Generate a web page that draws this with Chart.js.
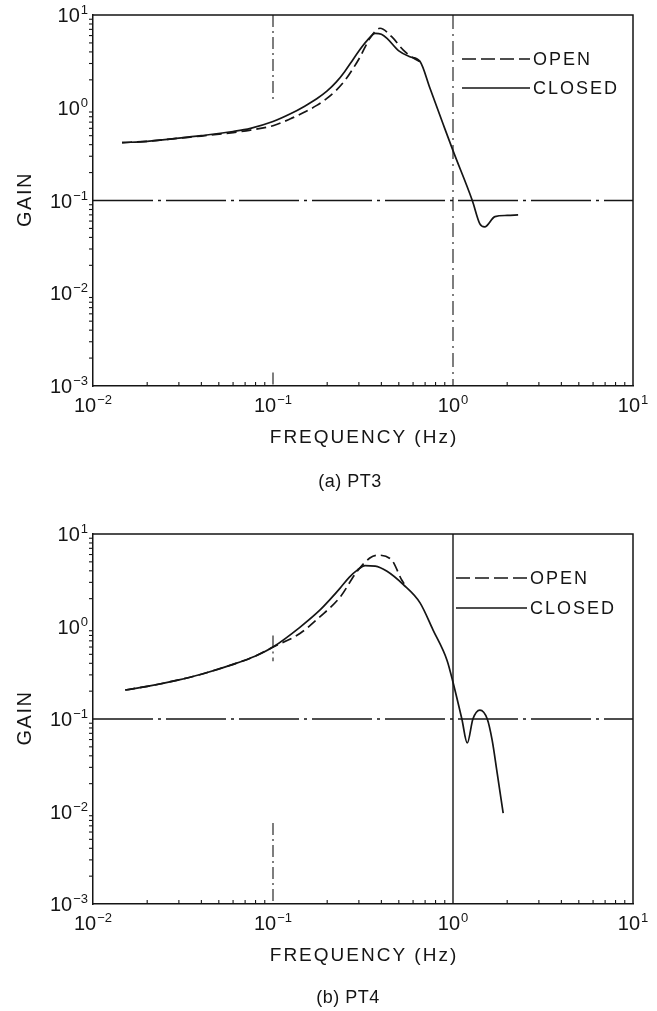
<!DOCTYPE html>
<html><head><meta charset="utf-8">
<script src="https://cdn.jsdelivr.net/npm/chart.js@4.4.0/dist/chart.umd.min.js"></script>
<style>
html,body{margin:0;padding:0;background:#fff;width:657px;height:1011px;overflow:hidden}
canvas{position:absolute;left:0}
#c1{top:0}
#c2{top:500px}
</style></head><body>
<canvas id="c1" width="657" height="500" style="width:657px;height:500px"></canvas>
<canvas id="c2" width="657" height="511" style="width:657px;height:511px"></canvas>
<script>
// ---------- DATA ----------
// (a) PT3
const freqA_closed = [0.0145, 0.02, 0.03, 0.04, 0.06, 0.075, 0.1, 0.125, 0.15, 0.175, 0.2, 0.225, 0.25, 0.275, 0.3, 0.333, 0.37, 0.40, 0.43, 0.5, 0.576, 0.656, 0.745, 0.883, 1.0, 1.28, 1.41, 1.5, 1.71, 2.0, 2.3];
const gainA_closed = [0.42, 0.435, 0.47, 0.5, 0.555, 0.6, 0.71, 0.86, 1.04, 1.25, 1.52, 1.9, 2.45, 3.2, 4.1, 5.3, 6.35, 6.2, 5.6, 4.1, 3.55, 3.15, 1.62, 0.66, 0.345, 0.1, 0.056, 0.052, 0.067, 0.069, 0.07];
const freqA_open = [0.0145, 0.02, 0.03, 0.04, 0.06, 0.075, 0.1, 0.125, 0.15, 0.175, 0.2, 0.225, 0.25, 0.275, 0.304, 0.345, 0.393, 0.458, 0.528, 0.6, 0.656];
const gainA_open = [0.42, 0.435, 0.47, 0.495, 0.54, 0.575, 0.64, 0.76, 0.9, 1.06, 1.27, 1.55, 1.95, 2.55, 3.5, 5.6, 7.2, 5.8, 4.2, 3.45, 3.15];
// (b) PT4
const freqB_closed = [0.0151, 0.02, 0.03, 0.04, 0.06, 0.08, 0.1, 0.141, 0.182, 0.207, 0.236, 0.265, 0.295, 0.325, 0.37, 0.43, 0.528, 0.656, 0.774, 0.927, 1.0, 1.12, 1.2, 1.29, 1.41, 1.55, 1.65, 1.76, 1.9];
const gainB_closed = [0.206, 0.225, 0.265, 0.305, 0.39, 0.48, 0.6, 0.98, 1.5, 1.95, 2.6, 3.4, 4.1, 4.55, 4.5, 3.95, 2.85, 1.8, 0.92, 0.43, 0.25, 0.1, 0.055, 0.1, 0.125, 0.1, 0.059, 0.026, 0.0096];
const freqB_open = [0.0151, 0.02, 0.03, 0.04, 0.06, 0.08, 0.1, 0.141, 0.182, 0.236, 0.292, 0.345, 0.38, 0.456, 0.519, 0.535];
const gainB_open = [0.206, 0.225, 0.265, 0.305, 0.39, 0.48, 0.6, 0.84, 1.27, 2.08, 3.9, 5.5, 5.9, 5.24, 3.18, 2.9];
// axis tick labels (powers of ten)
const xTickExponents = [-2, -1, 0, 1];
const yTickExponents = [-3, -2, -1, 0, 1];
const seriesLabels = ['OPEN', 'CLOSED'];
const xTitle = 'FREQUENCY (Hz)';
const yTitle = 'GAIN';
const captions = ['(a) PT3', '(b) PT4'];

// ---------- RENDERING ----------
const FONT = '"Liberation Sans", Arial, Helvetica, sans-serif';
const INK = '#151515';
const toXY = (xs, ys) => xs.map((v, i) => ({x: v, y: ys[i]}));

function line(ctx, x0, y0, x1, y1) { ctx.beginPath(); ctx.moveTo(x0, y0); ctx.lineTo(x1, y1); ctx.stroke(); }

function drawPow(ctx, exp, x, base, align) {
  ctx.letterSpacing = '0px';
  const es = exp < 0 ? '\u2212' + (-exp) : String(exp);
  ctx.font = '20px ' + FONT; const w1 = ctx.measureText('10').width;
  ctx.font = '13px ' + FONT; const w2 = ctx.measureText(es).width;
  const tot = w1 + 1 + w2;
  const left = align === 'right' ? x - tot : x - tot / 2;
  ctx.textAlign = 'left'; ctx.textBaseline = 'alphabetic';
  ctx.font = '20px ' + FONT; ctx.fillText('10', left, base);
  ctx.font = '13px ' + FONT; ctx.fillText(es, left + w1 + 1, base - 8);
}

function decoPlugin(cfg) {
  return {
    id: 'deco',
    beforeDatasetsDraw(chart) {
      const {ctx, chartArea: a, scales: {x, y}} = chart;
      ctx.save();
      ctx.strokeStyle = INK;
      for (const g of cfg.vGrid) {
        const px = x.getPixelForValue(g.v);
        ctx.lineWidth = g.w; ctx.setLineDash(g.dash);
        const segs = g.segs || [[10, 0.001]];
        for (const s of segs) line(ctx, px, y.getPixelForValue(s[0]), px, y.getPixelForValue(s[1]));
      }
      for (const g of cfg.hGrid) {
        const py = y.getPixelForValue(g.v);
        ctx.lineWidth = g.w; ctx.setLineDash(g.dash);
        line(ctx, a.left, py, a.right, py);
      }
      ctx.setLineDash([]);
      ctx.lineWidth = 1.5;
      ctx.beginPath(); ctx.moveTo(a.left, a.top); ctx.lineTo(a.right, a.top); ctx.lineTo(a.right, a.bottom); ctx.stroke();
      // minor ticks
      ctx.lineWidth = 1.1;
      for (let e = -2; e < 1 + 1; e++) {
        for (let m = 2; m <= 9; m++) {
          const v = m * Math.pow(10, e);
          if (v > 10) continue;
          const px = x.getPixelForValue(v);
          line(ctx, px, a.bottom, px, a.bottom - 4);
        }
      }
      for (let e = -3; e < 1; e++) {
        for (let m = 2; m <= 9; m++) {
          const v = m * Math.pow(10, e);
          const py = y.getPixelForValue(v);
          line(ctx, a.left - 4, py, a.left, py);
        }
      }
      ctx.restore();
    },
    afterDraw(chart) {
      const {ctx, chartArea: a, scales: {x, y}} = chart;
      ctx.save();
      ctx.fillStyle = INK;
      for (const e of yTickExponents) drawPow(ctx, e, a.left - 5, y.getPixelForValue(Math.pow(10, e)) + 7, 'right');
      for (const e of xTickExponents) drawPow(ctx, e, x.getPixelForValue(Math.pow(10, e)), a.bottom + 26, 'center');
      // y title
      ctx.save();
      ctx.translate(25, (a.top + a.bottom) / 2);
      ctx.rotate(-Math.PI / 2);
      ctx.font = '20px ' + FONT; ctx.letterSpacing = '1.5px';
      ctx.textAlign = 'center'; ctx.textBaseline = 'middle';
      ctx.fillText(yTitle, 1, 0);
      ctx.restore();
      // x title
      ctx.font = '19px ' + FONT; ctx.letterSpacing = '2px';
      ctx.textAlign = 'center'; ctx.textBaseline = 'middle';
      ctx.fillText(xTitle, (a.left + a.right) / 2 + 1, a.bottom + 52);
      // caption
      ctx.font = '18px ' + FONT; ctx.letterSpacing = '0.5px';
      ctx.fillText(cfg.caption, cfg.capX, a.bottom + cfg.capDy);
      // legend
      const L = cfg.legend;
      chart.data.datasets.forEach((ds, i) => {
        const ly = L.y[i];
        ctx.strokeStyle = INK; ctx.lineWidth = 1.6;
        ctx.setLineDash(i === 0 ? [14, 5] : []);
        line(ctx, L.x0, ly, L.x1, ly);
        ctx.setLineDash([]);
        ctx.font = '18px ' + FONT; ctx.letterSpacing = '2px';
        ctx.textAlign = 'left'; ctx.textBaseline = 'middle';
        ctx.fillText(ds.label, L.tx, ly + 1);
      });
      ctx.restore();
    }
  };
}

function makeChart(id, open, closed, pad, cfg) {
  return new Chart(document.getElementById(id), {
    type: 'line',
    data: {
      datasets: [
        {label: seriesLabels[0], data: open, borderColor: INK, borderWidth: 1.7, borderDash: [10, 5], pointRadius: 0, fill: false, cubicInterpolationMode: 'monotone'},
        {label: seriesLabels[1], data: closed, borderColor: INK, borderWidth: 1.7, pointRadius: 0, fill: false, cubicInterpolationMode: 'monotone'}
      ]
    },
    options: {
      responsive: false, animation: false, devicePixelRatio: 1,
      layout: {padding: pad},
      plugins: {legend: {display: false}, tooltip: {enabled: false}, title: {display: false}},
      scales: {
        x: {type: 'logarithmic', min: 0.01, max: 10, position: 'bottom',
            ticks: {display: false}, grid: {display: true, drawOnChartArea: false, drawTicks: false},
            border: {display: true, color: INK, width: 1.5}, title: {display: false},
            afterFit: s => { s.height = 0; }},
        y: {type: 'logarithmic', min: 0.001, max: 10, position: 'left',
            ticks: {display: false}, grid: {display: true, drawOnChartArea: false, drawTicks: false},
            border: {display: true, color: INK, width: 1.5}, title: {display: false},
            afterFit: s => { s.width = 0; }}
      }
    },
    plugins: [decoPlugin(cfg)]
  });
}

makeChart('c1', toXY(freqA_open, gainA_open), toXY(freqA_closed, gainA_closed),
  {left: 93, right: 24, top: 15, bottom: 114},
  {
    caption: captions[0], capX: 350, capDy: 96,
    vGrid: [
      {v: 0.1, w: 1.1, dash: [12, 4, 2, 4], segs: [[10, 1.24], [0.0014, 0.001]]},
      {v: 1, w: 1.1, dash: [14, 5, 2, 5]}
    ],
    hGrid: [{v: 0.1, w: 1.3, dash: [60, 5, 3, 5]}],
    legend: {x0: 462, x1: 530, tx: 533, y: [59, 88]}
  });

makeChart('c2', toXY(freqB_open, gainB_open), toXY(freqB_closed, gainB_closed),
  {left: 93, right: 24, top: 34, bottom: 107},
  {
    caption: captions[1], capX: 348, capDy: 94,
    vGrid: [
      {v: 0.1, w: 1.1, dash: [12, 4, 2, 4], segs: [[0.8, 0.42], [0.0075, 0.001]]},
      {v: 1, w: 1.4, dash: []}
    ],
    hGrid: [{v: 0.1, w: 1.3, dash: [60, 5, 3, 5]}],
    legend: {x0: 456, x1: 527, tx: 530, y: [78, 108]}
  });
</script>
</body></html>
